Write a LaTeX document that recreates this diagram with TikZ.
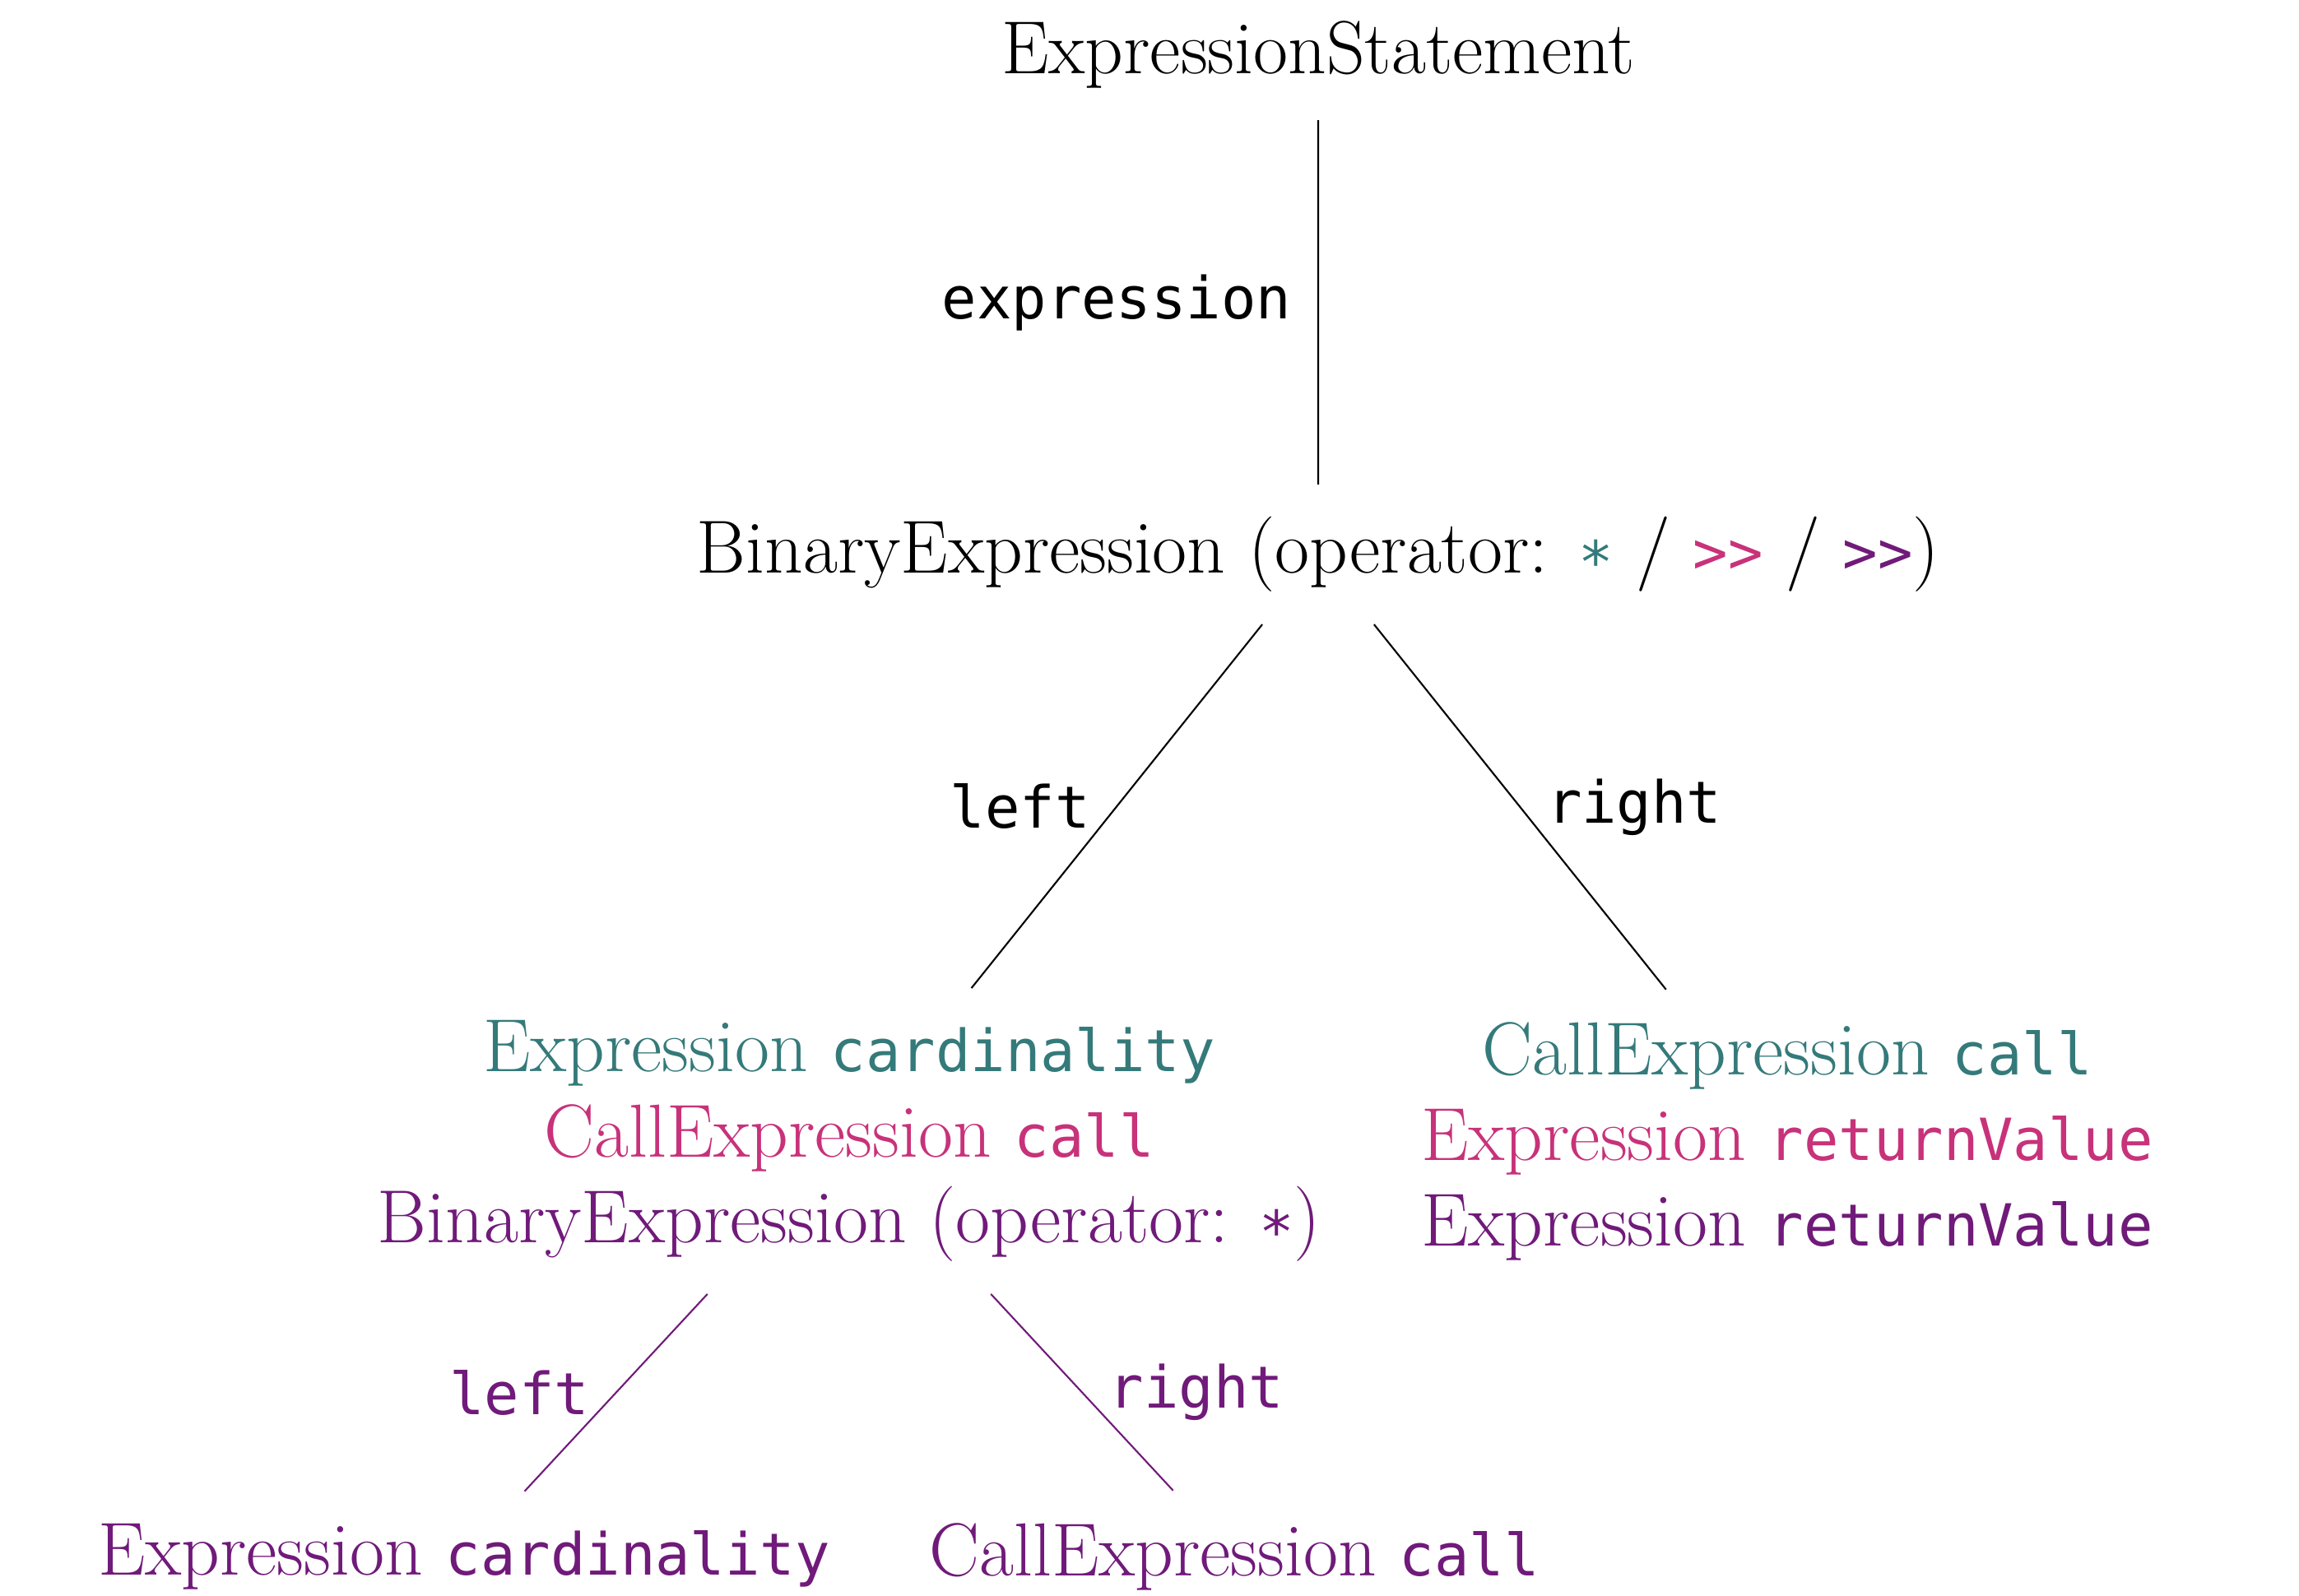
\documentclass[tikz,border=0pt]{standalone}
\usepackage{fontspec}
\setmonofont{DejaVu Sans Mono}[Scale=0.772]
\usepackage{tikz}
\definecolor{vteal}{RGB}{53,122,122}
\definecolor{vpink}{RGB}{200,50,122}
\definecolor{vpurple}{RGB}{112,26,122}
\newcommand{\opstar}{\raisebox{-0.3ex}{\texttt{*}}}

\begin{document}
\begin{tikzpicture}[
    every node/.style={font=\fontsize{26}{29.6}\selectfont, inner sep=11pt, align=center},
    lbl/.style={font=\fontsize{26}{29.6}\selectfont\ttfamily, inner sep=9pt},
    level 1/.style={level distance=6.08cm},
    level 2/.style={level distance=7.13cm, sibling distance=11.4cm},
    level 3/.style={level distance=5.05cm, sibling distance=9.36cm,
      edge from parent/.style={draw=vpurple, semithick}},
    edge from parent/.style={draw, semithick}
  ]
    \useasboundingbox (0,0) rectangle (27.94,-19.40);
    \node (stmt) at (16.02,-0.66) {ExpressionStatement}
        child { node (bin) {BinaryExpression (operator: \textcolor{vteal}{\opstar} / \textcolor{vpink}{\texttt{>>}} / \textcolor{vpurple}{\texttt{>>}})}
            child { node (lhs) {\textcolor{vteal}{Expression \texttt{cardinality}}\\
                                \textcolor{vpink}{CallExpression \texttt{call}}\\
                                \textcolor{vpurple}{BinaryExpression (operator: \opstar)}}
                child { node (card) [text=vpurple] {Expression \texttt{cardinality}}
                    edge from parent node[lbl, left, text=vpurple] {left}
                }
                child { node (call) [text=vpurple] {CallExpression \texttt{call}}
                    edge from parent node[lbl, right, text=vpurple] {right}
                }
                edge from parent node[lbl, left] {left}
            }
            child { node (rhs) {\textcolor{vteal}{CallExpression \texttt{call}}\\
                                \textcolor{vpink}{Expression \texttt{returnValue}}\\
                                \textcolor{vpurple}{Expression \texttt{returnValue}}}
                edge from parent node[lbl, right] {right}
            }
            edge from parent node[lbl, left] {expression}
        };
\end{tikzpicture}
\end{document}
